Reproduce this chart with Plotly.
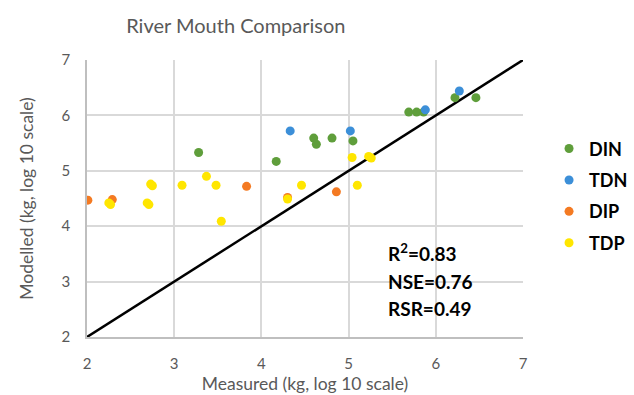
import plotly.graph_objects as go

din_x = [3.28, 4.17, 4.60, 4.63, 4.81, 5.05, 5.69, 5.78, 5.86, 6.22, 6.46]
din_y = [5.33, 5.17, 5.59, 5.48, 5.59, 5.54, 6.06, 6.06, 6.06, 6.32, 6.32]

tdn_x = [4.33, 5.02, 5.88, 6.27]
tdn_y = [5.72, 5.72, 6.10, 6.44]

dip_x = [2.01, 2.29, 3.83, 4.30, 4.86]
dip_y = [4.47, 4.48, 4.72, 4.52, 4.62]

tdp_x = [2.25, 2.27, 2.69, 2.71, 2.73, 2.75, 3.09, 3.37, 3.48, 3.54, 4.30, 4.46, 5.04, 5.23, 5.26, 5.10]
tdp_y = [4.42, 4.39, 4.42, 4.39, 4.76, 4.73, 4.74, 4.90, 4.74, 4.09, 4.49, 4.74, 5.24, 5.26, 5.23, 4.74]

line_x = [2, 7]
line_y = [2, 7]

stats = ["R<sup>2</sup>=0.83", "NSE=0.76", "RSR=0.49"]
stats_y = [3.52, 3.0, 2.52]

FONT = "Lato, 'Open Sans', sans-serif"
GREY = "#595959"

fig = go.Figure()
fig.add_trace(go.Scatter(x=line_x, y=line_y, mode="lines",
                         line=dict(color="black", width=2.5), showlegend=False,
                         hoverinfo="skip"))
series = [("DIN", din_x, din_y, "#5f9e3b"),
          ("TDN", tdn_x, tdn_y, "#3c8fd8"),
          ("DIP", dip_x, dip_y, "#f47a22"),
          ("TDP", tdp_x, tdp_y, "#ffe600")]
for name, xs, ys, col in series:
    fig.add_trace(go.Scatter(x=xs, y=ys, mode="markers", name=name,
                             legendgroup=name,
                             marker=dict(color=col, size=9, line=dict(width=0))))

for s, yv in zip(stats, stats_y):
    fig.add_annotation(x=5.43, y=yv, xref="x", yref="y", text="<b>%s</b>" % s,
                       showarrow=False, xanchor="left", yanchor="middle",
                       font=dict(family=FONT, size=19, color="black"))

fig.update_layout(
    width=634, height=395,
    margin=dict(l=87, r=111, t=60, b=58, autoexpand=False),
    paper_bgcolor="white", plot_bgcolor="white",
    title=dict(text="River Mouth Comparison", x=0.372, xanchor="center",
               y=0.935, yanchor="middle", xref="container", yref="container",
               font=dict(family=FONT, size=20, color=GREY)),
    font=dict(family=FONT, color=GREY),
    legend=dict(xref="container", yref="container", x=0.866, y=0.67,
                xanchor="left", yanchor="top",
                font=dict(family=FONT, size=18, color="black", weight="bold"),
                tracegroupgap=5, itemsizing="trace"),
    xaxis=dict(range=[2, 7], dtick=1, showgrid=True, gridcolor="#d9d9d9", gridwidth=1.5,
               zeroline=False, showline=True, linecolor="#bfbfbf", linewidth=1.5,
               automargin=False,
               ticks="", tickfont=dict(size=15, color=GREY), ticklabelstandoff=12,
               title=dict(text="Measured (kg, log 10 scale)", font=dict(size=17.5, color=GREY),
                          standoff=7)),
    yaxis=dict(range=[2, 7], dtick=1, showgrid=True, gridcolor="#d9d9d9", gridwidth=1.5,
               zeroline=False, showline=True, linecolor="#bfbfbf", linewidth=1.5,
               automargin=False,
               ticks="", tickfont=dict(size=15, color=GREY), ticklabelstandoff=12,
               title=dict(text="Modelled (kg, log 10 scale)", font=dict(size=17.5, color=GREY),
                          standoff=23)),
)

fig.write_html("out.html")
